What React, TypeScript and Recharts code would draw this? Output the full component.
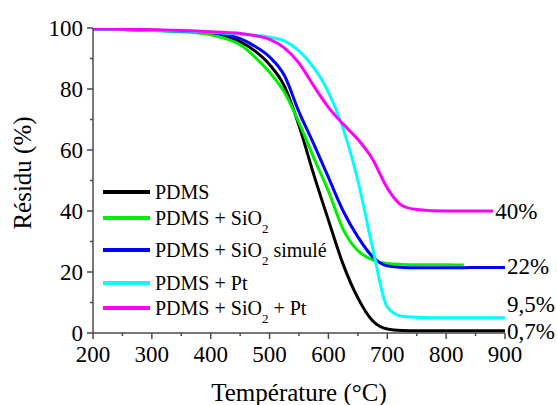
import React from 'react';
import { LineChart, Line, XAxis, YAxis, Legend, ReferenceDot } from 'recharts';

const temps = [200, 250, 300, 350, 400, 425, 450, 475, 500, 525, 550, 575, 600, 625, 650, 675, 700, 725, 750, 800, 830, 850, 880, 900];

const pdms = [99.6, 99.5, 99.3, 99.0, 98.2, 97.2, 95.5, 92.5, 88.0, 81.0, 68.0, 52.0, 37.0, 22.5, 11.5, 4.0, 1.3, 0.8, 0.7, 0.7, 0.7, 0.7, 0.7, 0.7];
const pdmsSiO2 = [99.6, 99.5, 99.2, 98.8, 97.8, 96.5, 94.5, 90.5, 85.5, 79.0, 69.0, 57.5, 46.5, 34.0, 27.0, 24.0, 22.8, 22.5, 22.4, 22.4, 22.3, null, null, null];
const pdmsSiO2Sim = [99.6, 99.5, 99.3, 99.0, 98.5, 97.8, 96.5, 94.0, 90.5, 84.5, 72.5, 62.0, 51.0, 40.0, 31.5, 25.0, 22.0, 21.5, 21.4, 21.4, 21.4, 21.5, 21.5, 21.5];
const pdmsPt = [99.6, 99.5, 99.2, 99.0, 98.6, 98.3, 98.0, 97.6, 97.0, 95.8, 92.5, 87.0, 79.0, 67.0, 50.0, 28.0, 8.5, 5.5, 5.2, 5.0, 5.0, 5.0, 5.0, 5.0];
const pdmsSiO2Pt = [99.7, 99.6, 99.4, 99.2, 98.8, 98.5, 98.2, 97.5, 96.3, 93.5, 88.5, 81.0, 74.0, 68.5, 63.5, 57.0, 47.5, 41.8, 40.5, 40.0, 40.0, 40.0, 40.0, null];

const xTicks = [200, 250, 300, 350, 400, 450, 500, 550, 600, 650, 700, 750, 800, 850, 900];
const yTicks = [0, 10, 20, 30, 40, 50, 60, 70, 80, 90, 100];

const endLabels = [
  { x: 880, y: 40, text: '40%' },
  { x: 900, y: 22, text: '22%' },
  { x: 900, y: 9.5, text: '9,5%' },
  { x: 900, y: 0.7, text: '0,7%' },
];

const series = [
  { key: 'pdms', name: 'PDMS', sub: '', after: '', color: '#000000', values: pdms },
  { key: 'sio2', name: 'PDMS + SiO', sub: '2', after: '', color: '#00ee00', values: pdmsSiO2 },
  { key: 'sim', name: 'PDMS + SiO', sub: '2', after: ' simulé', color: '#0000ff', values: pdmsSiO2Sim },
  { key: 'pt', name: 'PDMS + Pt', sub: '', after: '', color: '#00ffff', values: pdmsPt },
  { key: 'sio2pt', name: 'PDMS + SiO', sub: '2', after: ' + Pt', color: '#ff00ff', values: pdmsSiO2Pt },
];

const data = temps.map((t, i) => {
  const row: Record<string, number | null> = { t };
  series.forEach(s => { row[s.key] = s.values[i]; });
  return row;
});

const FONT = "'Liberation Serif', 'Times New Roman', Times, Tinos, 'Noto Serif', 'DejaVu Serif', serif";
const AXIS = '#4a4a4a';

const XTick = (props: any) => {
  const { x, y, payload } = props;
  const major = payload.value % 100 === 0;
  return (
    <g>
      <line x1={x} x2={x} y1={y} y2={y + (major ? 6 : 3)} stroke={AXIS} strokeWidth={1.5} />
      {major && (
        <text x={x} y={y + 29} textAnchor="middle" fontSize={23} style={{ fontFamily: FONT }} fill="#000">{payload.value}</text>
      )}
    </g>
  );
};

const YTick = (props: any) => {
  const { x, y, payload } = props;
  const major = payload.value % 20 === 0;
  return (
    <g>
      <line x1={x} x2={x - (major ? 6 : 3)} y1={y} y2={y} stroke={AXIS} strokeWidth={1.5} />
      {major && (
        <text x={x - 10} y={y + 7.5} textAnchor="end" fontSize={23} style={{ fontFamily: FONT }} fill="#000">{payload.value}</text>
      )}
    </g>
  );
};

const renderLegend = () => (
  <div style={{ position: 'relative', fontFamily: FONT, fontSize: 20, color: '#000' }}>
    {series.map(s => (
      <div key={s.key} style={{ position: 'relative', height: s.sub ? 32.5 : 25.5 }}>
        <div style={{ position: 'absolute', left: 0, top: -2, width: 47, height: 4, background: s.color }} />
        <span style={{ position: 'absolute', left: 52, top: -12, lineHeight: '24px', whiteSpace: 'nowrap' }}>
          {s.name}
          {s.sub && <span style={{ fontSize: 13, verticalAlign: -8 }}>{s.sub}</span>}
          {s.after}
        </span>
      </div>
    ))}
  </div>
);

const App: React.FC = () => {
  return (
    <div style={{ position: 'absolute', left: 0, top: 0, background: '#fff', fontFamily: FONT }}>
      <LineChart width={557} height={405} data={data} margin={{ top: 28, right: 52, bottom: 0, left: 0 }}>
        <XAxis
          dataKey="t"
          type="number"
          domain={[200, 900]}
          ticks={xTicks}
          interval={0}
          height={72}
          stroke={AXIS}
          strokeWidth={1.5}
          tickLine={false}
          tickSize={0}
          tickMargin={0}
          tick={<XTick />}
          allowDataOverflow
          label={({ viewBox }: any) => (
            <text x={viewBox.x + viewBox.width / 2} y={401} textAnchor="middle" fontSize={25} style={{ fontFamily: FONT }} fill="#000">
              Température (°C)
            </text>
          )}
        />
        <YAxis
          type="number"
          domain={[0, 100]}
          ticks={yTicks}
          interval={0}
          width={93}
          stroke={AXIS}
          strokeWidth={1.5}
          tickLine={false}
          tickSize={0}
          tickMargin={0}
          tick={<YTick />}
          allowDataOverflow
          label={() => (
            <text x={31} y={173} transform="rotate(-90 31 173)" textAnchor="middle" fontSize={25} style={{ fontFamily: FONT }} fill="#000">
              Résidu (%)
            </text>
          )}
        />
        <Legend
          layout="vertical"
          align="center"
          verticalAlign="middle"
          content={renderLegend}
          wrapperStyle={{ left: 103, top: 192, width: 260, height: 'auto' }}
        />
        {series.map(s => (
          <Line
            key={s.key}
            type="monotone"
            dataKey={s.key}
            name={s.name}
            stroke={s.color}
            strokeWidth={3}
            dot={false}
            isAnimationActive={false}
          />
        ))}
        {endLabels.map(l => (
          <ReferenceDot
            key={l.text}
            x={l.x}
            y={l.y}
            r={0}
            stroke="none"
            fill="none"
            label={{ value: l.text, position: 'right', offset: 2, fontSize: 23, style: { fontFamily: FONT }, fill: '#000' }}
          />
        ))}
      </LineChart>
    </div>
  );
};

export default App;
